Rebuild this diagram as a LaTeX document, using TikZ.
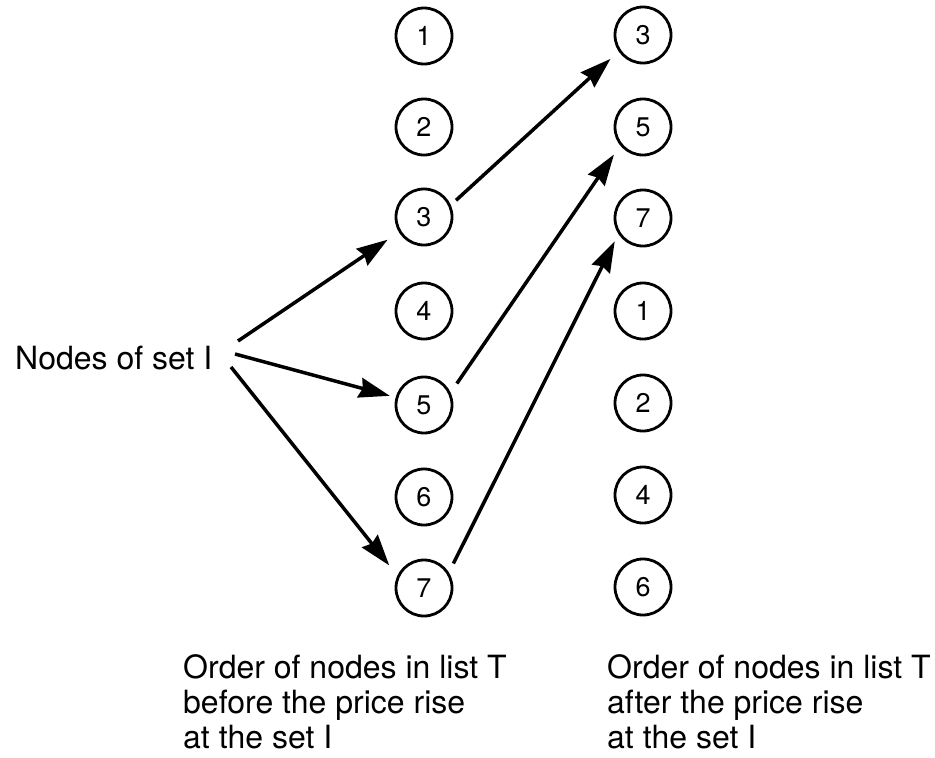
\documentclass[tikz,border=0pt]{standalone}
\usepackage{fontspec}
\setmainfont{TeX Gyre Heros}
\usetikzlibrary{arrows.meta}

\begin{document}
\begin{tikzpicture}[x=1pt,y=-1pt,
  numcircle/.style={circle,draw,line width=2.8pt,minimum size=56pt,inner sep=0pt,
    font=\fontsize{27}{27}\selectfont},
  label/.style={inner sep=0pt,font=\fontsize{32}{35}\selectfont},
  arr/.style={line width=3.5pt,-{Stealth[length=31pt,width=20pt,inset=3pt]}}]
  \useasboundingbox (0,0) rectangle (935,758);

  % list T before the price rise
  \node[numcircle] (l1) at (424,36)  {1};
  \node[numcircle] (l2) at (424,127) {2};
  \node[numcircle] (l3) at (424,217) {3};
  \node[numcircle] (l4) at (424,311) {4};
  \node[numcircle] (l5) at (424,405) {5};
  \node[numcircle] (l6) at (424,497) {6};
  \node[numcircle] (l7) at (424,588) {7};

  % list T after the price rise
  \node[numcircle] (r3) at (643,35)  {3};
  \node[numcircle] (r5) at (643,127) {5};
  \node[numcircle] (r7) at (643,218) {7};
  \node[numcircle] (r1) at (643,311) {1};
  \node[numcircle] (r2) at (643,403) {2};
  \node[numcircle] (r4) at (643,495) {4};
  \node[numcircle] (r6) at (643,587) {6};

  % labels
  \node[label,anchor=base west] (setI) at (15,369) {Nodes of set I};
  \node[label,anchor=north west,align=left] (before) at (183,654)
    {Order of nodes in list T\\before the price rise\\at the set I};
  \node[label,anchor=north west,align=left] (after) at (607,654)
    {Order of nodes in list T\\after the price rise\\at the set I};

  % arrow origins beside the set label
  \coordinate (s1) at (238,341);
  \coordinate (s2) at (235,354);
  \coordinate (s3) at (231,367);

  \draw[arr,shorten >=13.5pt] (s1) -- (l3.211);
  \draw[arr,shorten >=6pt]    (s2) -- (l5.165);
  \draw[arr,shorten >=13pt]   (s3) -- (l7.155);

  \draw[arr,shorten <=7pt,shorten >=11pt]  (l3.24) -- (r3.214);
  \draw[arr,shorten <=11pt,shorten >=11pt] (l5.25) -- (r5.219);
  \draw[arr,shorten <=10pt,shorten >=8pt]  (l7.32) -- (r7.213);
\end{tikzpicture}
\end{document}
